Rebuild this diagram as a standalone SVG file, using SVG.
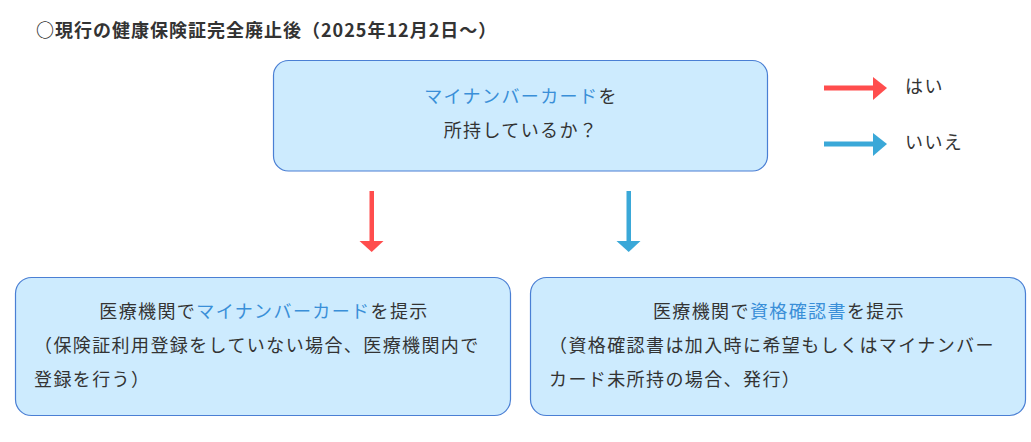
<svg xmlns="http://www.w3.org/2000/svg" width="1031" height="442" viewBox="0 0 1031 442">
<style>
text{font-family:"Noto Sans CJK JP","Noto Sans",sans-serif;font-size:18px;fill:#333;letter-spacing:1.4px}
.title{font-weight:bold;letter-spacing:1px}
.hl{fill:#3a8fd8}
.box{fill:#cdebfe;stroke:#4a7fd4;stroke-width:1.2}
.red{fill:#ff4d4d}
.blue{fill:#3aa8d8}
</style>
<rect width="1031" height="442" fill="#fff"/>
<text class="title" x="36" y="37">○現行の健康保険証完全廃止後（2025年12月2日～）</text>
<g id="legend">
<rect class="red" x="824" y="85.5" width="50" height="5"/>
<polygon class="red" points="873,77 887,88 873,100"/>
<text x="905" y="93">はい</text>
<rect class="blue" x="824" y="141.5" width="50" height="5"/>
<polygon class="blue" points="873,133 887,144 873,156"/>
<text x="905" y="149">いいえ</text>
</g>
<g id="connectors">
<rect class="red" x="369.5" y="191" width="4.5" height="51"/>
<polygon class="red" points="359.5,241 383.5,241 371.7,252"/>
<rect class="blue" x="626.5" y="191" width="4.5" height="51"/>
<polygon class="blue" points="616.5,241 640.5,241 628.7,252"/>
</g>
<g id="q">
<rect class="box" x="273.5" y="60.5" width="494" height="110.5" rx="15"/>
<text x="521" y="103" text-anchor="middle"><tspan class="hl">マイナンバーカード</tspan>を</text>
<text x="521" y="137" text-anchor="middle">所持しているか？</text>
</g>
<g id="yes">
<rect class="box" x="15.5" y="277.5" width="495" height="138" rx="16"/>
<text x="264" y="318" text-anchor="middle">医療機関で<tspan class="hl">マイナンバーカード</tspan>を提示</text>
<text x="34" y="352">（保険証利用登録をしていない場合、医療機関内で</text>
<text x="34" y="386">登録を行う）</text>
</g>
<g id="no">
<rect class="box" x="530.5" y="277.5" width="495" height="138" rx="16"/>
<text x="779" y="318" text-anchor="middle">医療機関で<tspan class="hl">資格確認書</tspan>を提示</text>
<text x="549" y="352">（資格確認書は加入時に希望もしくはマイナンバー</text>
<text x="549" y="386">カード未所持の場合、発行）</text>
</g>
</svg>
